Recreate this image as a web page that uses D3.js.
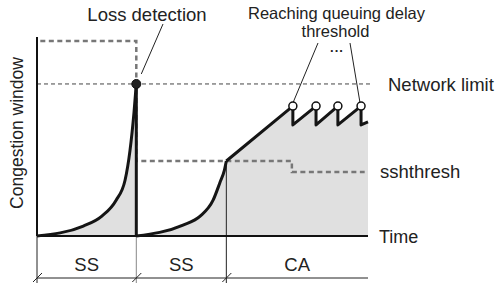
<!DOCTYPE html>
<html><head><meta charset="utf-8">
<script src="https://cdn.jsdelivr.net/npm/d3@7"></script>
<style>body{margin:0;background:#fff}svg{display:block;font-family:"Liberation Sans",Arial,sans-serif}</style>
</head><body><svg id="c" width="496" height="285"></svg>
<script>
// ---- data (time units 0..100, congestion window units 0..100) ----
const ss1Time = [0, 14, 19.6, 23.9, 26.6, 28.1, 29.3, 30];
const ss1Cwnd = [0, 5, 10, 18, 28, 43, 62, 76.4];
const ss2Time = [30, 44.1, 49.3, 53.2, 55.3, 56.6, 57.2];
const ss2Cwnd = [0, 5.5, 10, 18, 27, 33, 37.7];
const caTime = [57.2, 77.3, 77.3, 84.3, 84.3, 90.9, 90.9, 97.9, 97.9, 100];
const caCwnd = [37.7, 65.3, 55.8, 65.3, 55.8, 65.3, 55.8, 65.3, 55.8, 57.3];
const peakTimes = [77.3, 84.3, 90.9, 97.9];
const peakCwnd = 65.3;
const lossTime = 30, networkLimit = 76.4;
const ssthreshTime = [1, 30, 30, 77, 77, 99];
const ssthreshVal = [98, 98, 37.7, 37.7, 32.2, 32.2];
const phaseBounds = [0, 30, 57.2, 100];
const phaseLabels = ["SS", "SS", "CA"];

const svg = d3.select("#c");
const x = d3.scaleLinear().domain([0, 100]).range([37, 368]);
const y = d3.scaleLinear().domain([0, 100]).range([236, 37]);
const zip = (a, b) => a.map((v, i) => [v, b[i]]);

const ss1 = zip(ss1Time, ss1Cwnd), ss2 = zip(ss2Time, ss2Cwnd), ca = zip(caTime, caCwnd);

// fills
const area = d3.area().x(d => x(d[0])).y0(y(0)).y1(d => y(d[1]));
const areaS = d3.area().curve(d3.curveMonotoneX).x(d => x(d[0])).y0(y(0)).y1(d => y(d[1]));
svg.append("path").attr("d", areaS(ss1)).attr("fill", "#e0e0e0");
svg.append("path").attr("d", areaS(ss2)).attr("fill", "#e0e0e0");
svg.append("path").attr("d", area(ca)).attr("fill", "#e0e0e0");

// network limit
svg.append("line").attr("x1", x(0)).attr("x2", x(101.3)).attr("y1", y(networkLimit)).attr("y2", y(networkLimit))
  .attr("stroke", "#444").attr("stroke-width", 1).attr("stroke-dasharray", "4,3");

// phase separators & brace
const gb = svg.append("g");
phaseBounds.slice(0, 3).forEach((t, i) => {
  const top = i === 2 ? y(ss2Cwnd[ss2Cwnd.length - 1]) : y(0);
  gb.append("line").attr("x1", x(t)).attr("x2", x(t)).attr("y1", top).attr("y2", 283)
    .attr("stroke", i === 1 ? "#888" : "#222").attr("stroke-width", 1);
  gb.append("line").attr("x1", x(t) - 4).attr("x2", x(t) + 5).attr("y1", 282).attr("y2", 273)
    .attr("stroke", "#222").attr("stroke-width", 1);
});
gb.append("line").attr("x1", x(0)).attr("x2", x(100)).attr("y1", 278).attr("y2", 278)
  .attr("stroke", "#222").attr("stroke-width", 1);
phaseLabels.forEach((l, i) => {
  gb.append("text").attr("x", (x(phaseBounds[i]) + x(phaseBounds[i + 1])) / 2).attr("y", 271)
    .attr("text-anchor", "middle").attr("font-size", 18.5).attr("fill", "#222").text(l);
});

// ssthresh
const lin = d3.line().x(d => x(d[0])).y(d => y(d[1]));
svg.append("path").attr("d", lin(zip(ssthreshTime, ssthreshVal))).attr("fill", "none")
  .attr("stroke", "#777").attr("stroke-width", 2.5).attr("stroke-dasharray", "5,3.5");

// axes
svg.append("line").attr("x1", x(0)).attr("x2", x(0)).attr("y1", y(100)).attr("y2", y(0)).attr("stroke", "#111").attr("stroke-width", 2);
svg.append("line").attr("x1", x(0)).attr("x2", x(100)).attr("y1", y(0)).attr("y2", y(0)).attr("stroke", "#111").attr("stroke-width", 2);

// cwnd curve
const linS = d3.line().curve(d3.curveMonotoneX).x(d => x(d[0])).y(d => y(d[1]));
const cw = { fill: "none", stroke: "#151515", "stroke-width": 3, "stroke-linejoin": "round" };
function sty(s, o) { for (const k in o) s.attr(k, o[k]); return s; }
sty(svg.append("path").attr("d", linS(ss1)), cw);
sty(svg.append("path").attr("d", lin([[lossTime, networkLimit], [lossTime, 0]])), cw);
sty(svg.append("path").attr("d", linS(ss2)), cw);
sty(svg.append("path").attr("d", lin(ca)), cw);

// annotation lines
svg.append("line").attr("x1", 163).attr("y1", 24).attr("x2", x(lossTime) + 5).attr("y2", y(networkLimit) - 10).attr("stroke", "#222").attr("stroke-width", 1);
svg.append("line").attr("x1", 318).attr("y1", 43).attr("x2", x(peakTimes[0])).attr("y2", y(peakCwnd) - 3).attr("stroke", "#222").attr("stroke-width", 1);
svg.append("line").attr("x1", 350).attr("y1", 43).attr("x2", x(peakTimes[3]) - 1).attr("y2", y(peakCwnd) - 3).attr("stroke", "#222").attr("stroke-width", 1);

// markers
svg.append("circle").attr("cx", x(lossTime)).attr("cy", y(networkLimit)).attr("r", 4.5).attr("fill", "#222").attr("stroke", "#111").attr("stroke-width", 1);
svg.selectAll(".pk").data(peakTimes).join("circle").attr("cx", d => x(d)).attr("cy", y(peakCwnd)).attr("r", 4)
  .attr("fill", "#fff").attr("stroke", "#111").attr("stroke-width", 1.5);

// texts
const T = (tx, ty, s, size, anchor) => svg.append("text").attr("x", tx).attr("y", ty).attr("font-size", size)
  .attr("text-anchor", anchor || "start").attr("fill", "#222").text(s);
T(147, 21, "Loss detection", 18.5, "middle");
T(336.5, 19, "Reaching queuing delay", 16.5, "middle");
T(335.5, 37, "threshold", 16.5, "middle");
T(337, 52, "...", 13, "middle").attr("font-weight", "bold").attr("letter-spacing", 1);
T(388, 91, "Network limit", 18.5);
T(380, 178, "sshthresh", 18.5);
T(379, 243, "Time", 18);
svg.append("text").attr("transform", "translate(23,133) rotate(-90)").attr("text-anchor", "middle")
  .attr("font-size", 17.5).attr("fill", "#222").text("Congestion window");
</script></body></html>
